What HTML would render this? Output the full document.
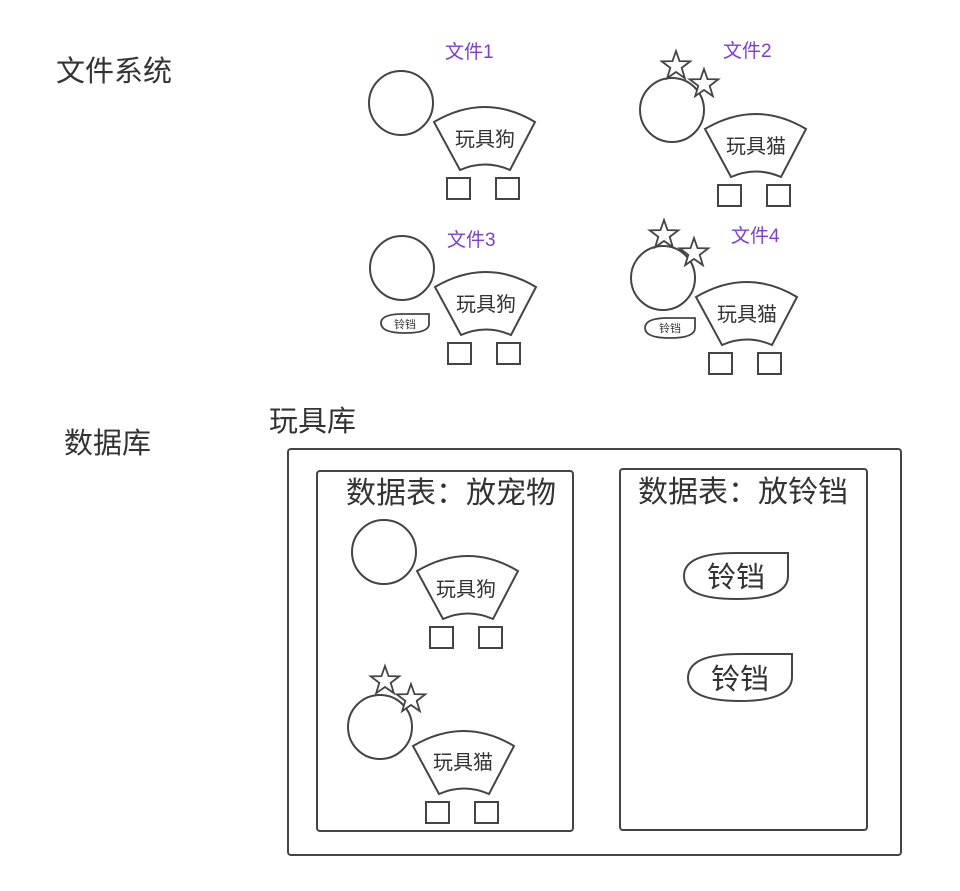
<!DOCTYPE html>
<html><head><meta charset="utf-8"><style>
html,body{margin:0;padding:0;background:#fff;}
svg{display:block;}
text{font-family:"Liberation Sans","Noto Sans CJK SC",sans-serif;fill:#333;}
.p{fill:#7b3fd6;}
</style></head><body>
<svg width="960" height="891" viewBox="0 0 960 891" xmlns="http://www.w3.org/2000/svg">
<defs>
<g id="fig" fill="none" stroke="#444" stroke-width="2">
  <circle cx="0" cy="0" r="32"/>
  <path d="M33,19 Q84,-11 134,19 L109,67 Q84,56 59,67 Z" fill="#fff"/>
  <rect x="46" y="75" width="23" height="21"/>
  <rect x="95" y="75" width="23" height="21"/>
</g>
<path id="star" d="M0,-15 L3.53,-4.85 L14.27,-4.64 L5.71,1.85 L8.82,12.14 L0,6 L-8.82,12.14 L-5.71,1.85 L-14.27,-4.64 L-3.53,-4.85 Z" fill="#fff" stroke="#444" stroke-width="1.8"/>
</defs>

<text x="56" y="81" font-size="29">文件系统</text>
<text x="64" y="453" font-size="29">数据库</text>

<!-- file1 -->
<text class="p" x="445" y="58" font-size="19">文件1</text>
<use href="#fig" x="401" y="103"/>
<text x="485" y="146" font-size="20" text-anchor="middle">玩具狗</text>

<!-- file2 -->
<text class="p" x="723" y="57" font-size="19">文件2</text>
<use href="#fig" x="672" y="110"/>
<use href="#star" x="676" y="66"/>
<use href="#star" x="704" y="84"/>
<text x="756" y="153" font-size="20" text-anchor="middle">玩具猫</text>

<!-- file3 -->
<text class="p" x="447" y="246" font-size="19">文件3</text>
<use href="#fig" x="402" y="268"/>
<text x="486" y="311" font-size="20" text-anchor="middle">玩具狗</text>
<path d="M429,314 V324 Q429,333 405,333 Q381,333 381,323 Q381,314 403,314 Z" fill="#fff" stroke="#444" stroke-width="1.8"/>
<text x="405" y="328" font-size="11" text-anchor="middle">铃铛</text>

<!-- file4 -->
<text class="p" x="731" y="242" font-size="19">文件4</text>
<use href="#fig" x="663" y="278"/>
<use href="#star" x="664" y="235"/>
<use href="#star" x="694" y="253"/>
<text x="747" y="321" font-size="20" text-anchor="middle">玩具猫</text>
<path d="M695,318 V328 Q695,338 670,338 Q645,338 645,328 Q645,318 668,318 Z" fill="#fff" stroke="#444" stroke-width="1.8"/>
<text x="670" y="332" font-size="11" text-anchor="middle">铃铛</text>

<!-- database -->
<text x="269" y="431" font-size="29">玩具库</text>
<rect x="288" y="449" width="613" height="406" rx="3" fill="none" stroke="#444" stroke-width="2"/>
<rect x="317" y="471" width="256" height="360" rx="3" fill="none" stroke="#444" stroke-width="2"/>
<rect x="620" y="469" width="247" height="361" rx="3" fill="none" stroke="#444" stroke-width="2"/>
<text x="346" y="503" font-size="30">数据表：放宠物</text>
<text x="638" y="502" font-size="30">数据表：放铃铛</text>

<use href="#fig" x="384" y="552"/>
<text x="466" y="596" font-size="20" text-anchor="middle">玩具狗</text>

<use href="#fig" x="380" y="727"/>
<use href="#star" x="385" y="681"/>
<use href="#star" x="411" y="699"/>
<text x="463" y="769" font-size="20" text-anchor="middle">玩具猫</text>

<path d="M788,553 V576 Q788,599 736,599 Q684,599 684,576 Q684,553 736,553 Z" fill="#fff" stroke="#444" stroke-width="2"/>
<text x="736" y="587" font-size="29" text-anchor="middle">铃铛</text>
<path d="M792,654 V677 Q792,701 740,701 Q688,701 688,678 Q688,654 740,654 Z" fill="#fff" stroke="#444" stroke-width="2"/>
<text x="740" y="689" font-size="29" text-anchor="middle">铃铛</text>
</svg>
</body></html>
